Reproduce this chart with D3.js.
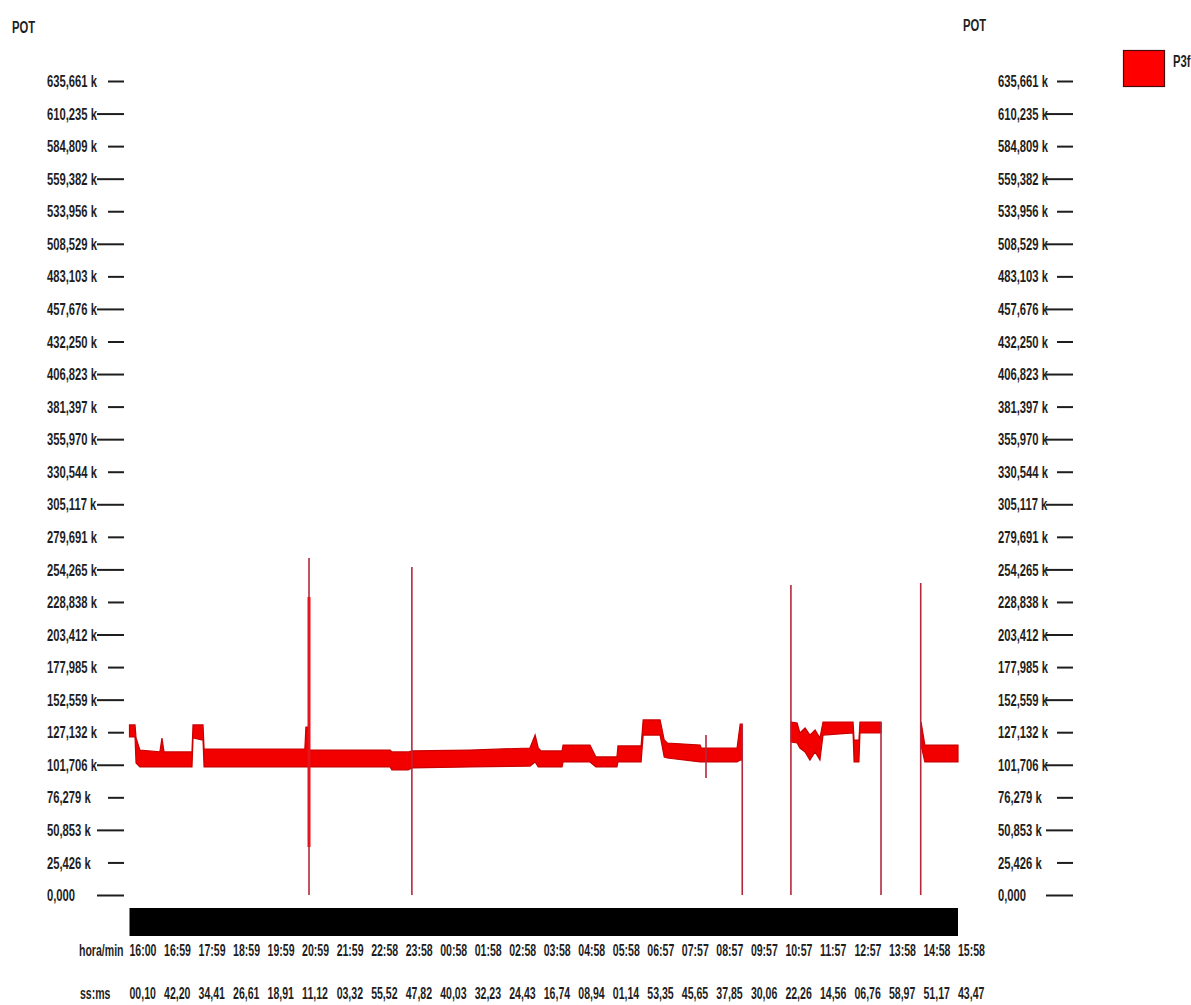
<!DOCTYPE html>
<html>
<head>
<meta charset="utf-8">
<script src="https://cdn.jsdelivr.net/npm/d3@7"></script>
<style>
  html, body { margin: 0; padding: 0; background: #ffffff; }
  svg { display: block; }
  text { font-family: "Liberation Sans Narrow", "Arial Narrow", "Liberation Sans", Arial, sans-serif; font-weight: bold; fill: #1e1e1e; }
</style>
</head>
<body>
<svg id="chart" width="1191" height="1005"></svg>
<script>
// ---- data -------------------------------------------------------------
// y-axis ticks (kW)
const yMax = 635.661;
const yTickLabels = ["0,000", "25,426 k", "50,853 k", "76,279 k", "101,706 k", "127,132 k",
  "152,559 k", "177,985 k", "203,412 k", "228,838 k", "254,265 k", "279,691 k", "305,117 k",
  "330,544 k", "355,970 k", "381,397 k", "406,823 k", "432,250 k", "457,676 k", "483,103 k",
  "508,529 k", "533,956 k", "559,382 k", "584,809 k", "610,235 k", "635,661 k"];

// x-axis: one label pair per hour since 16:00
const hourLabels = ["16:00", "16:59", "17:59", "18:59", "19:59", "20:59", "21:59", "22:58",
  "23:58", "00:58", "01:58", "02:58", "03:58", "04:58", "05:58", "06:57", "07:57", "08:57",
  "09:57", "10:57", "11:57", "12:57", "13:58", "14:58", "15:58"];
const secLabels = ["00,10", "42,20", "34,41", "26,61", "18,91", "11,12", "03,32", "55,52",
  "47,82", "40,03", "32,23", "24,43", "16,74", "08,94", "01,14", "53,35", "45,65", "37,85",
  "30,06", "22,26", "14,56", "06,76", "58,97", "51,17", "43,47"];

// P3f power band: hours since start, upper and lower envelope (k); null = no data
const bandTime = [0, 0.16, 0.19, 0.30, 0.88, 0.94, 1.00, 1.81, 1.84, 2.13, 2.16, 5.08, 5.11,
  5.17, 5.20, 7.55, 7.60, 8.07, 8.18, 9.86, 11.60, 11.75, 11.84, 11.92, 12.53, 12.56, 13.34,
  13.51, 14.12, 14.15, 14.82, 14.88, 15.37, 15.49, 15.58, 16.53, 16.56, 17.60, 17.69, 17.75,
  18.5,
  19.17, 19.34, 19.42, 19.57, 19.71, 19.86, 20.00, 20.09, 20.96, 20.99, 21.13, 21.16, 21.77,
  22.3,
  22.93, 23.04, 24.00];
const bandHigh = [132.8, 132.8, 122.6, 113.2, 111.7, 122.6, 111.7, 111.7, 132.8, 132.8, 114.0,
  114.0, 131.2, 131.2, 113.2, 113.2, 111.7, 111.7, 112.5, 113.2, 114.8, 124.9, 114.8, 112.5,
  112.5, 117.1, 117.1, 107.8, 107.8, 116.4, 116.4, 136.7, 136.7, 121.0, 118.7, 117.1, 114.8,
  114.8, 133.5, 133.5,
  null,
  135.1, 134.3, 126.5, 130.4, 124.9, 128.9, 122.6, 135.1, 135.1, 121.0, 121.0, 135.1, 135.1,
  null,
  135.1, 117.1, 117.1];
const bandLow = [123.4, 123.4, 103.1, 100.0, 100.0, 100.0, 100.0, 100.0, 122.6, 121.0, 100.0,
  100.0, 100.0, 100.0, 100.0, 100.0, 97.6, 97.6, 99.2, 100.0, 100.7, 103.9, 100.0, 100.0,
  100.0, 103.9, 103.9, 100.0, 100.0, 103.9, 103.9, 124.9, 124.9, 107.8, 107.0, 103.9, 103.9,
  103.9, 105.4, 105.4,
  null,
  119.5, 118.7, 114.8, 111.7, 105.4, 111.7, 105.4, 124.9, 126.5, 103.9, 103.9, 126.5, 126.5,
  null,
  117.1, 103.9, 103.9];

// isolated transients (hours since start, low, high in k)
const spikeTime = [5.20, 8.18, 16.70, 17.75, 19.16, 21.77, 22.92];
const spikeLow  = [0, 0, 91.4, 0, 0, 0, 0];
const spikeHigh = [263.2, 256.1, 124.9, 133.5, 242.1, 135.1, 243.6];
// the 20:59 transient stays heavy over most of its range
const surgeTime = [5.20];
const surgeLow  = [37.5];
const surgeHigh = [232.7];

const seriesName = "P3f";

// ---- layout -------------------------------------------------------------
const svg = d3.select("#chart");
const plotLeft = 129.5, plotRight = 958;
const y0 = 895, yTop = 81;

const x = d3.scaleLinear().domain([0, hourLabels.length - 1]).range([plotLeft, plotRight]);
const y = d3.scaleLinear().domain([0, yMax]).range([y0, yTop]);

// condensed label text: measure once, then squeeze horizontally
const fs = 17;
function makeSqueezer(sample, targetWidth) {
  const t = svg.append("text").attr("font-size", fs).text(sample);
  const w = t.node().getComputedTextLength();
  t.remove();
  return targetWidth / w;
}
const sxY = makeSqueezer("635,661 k", 50);
const sxX = makeSqueezer("16:00", 27);

function label(g, px, py, str, sx, anchor) {
  return g.append("text")
    .attr("transform", `translate(${px},${py}) scale(${sx},1)`)
    .attr("font-size", fs)
    .attr("text-anchor", anchor || "start")
    .attr("dy", "0.36em")
    .text(str);
}

// ---- y axes (left and right) ------------------------------------------
const yTickVals = yTickLabels.map((_, i) => i * yMax / 25);

function drawYAxis(labelX, tickEnd) {
  const ax = d3.axisLeft(y).tickValues(yTickVals).tickSizeOuter(0).tickSizeInner(27).tickFormat("");
  const g = svg.append("g").attr("transform", `translate(${tickEnd},0)`).call(ax);
  g.select(".domain").remove();
  g.selectAll(".tick line")
    .attr("stroke", "#1e1e1e").attr("stroke-width", 2)
    .attr("x2", (d, i) => i % 2 === 0 ? -27 : -16);
  const lg = svg.append("g");
  yTickVals.forEach((v, i) => label(lg, labelX, y(v), yTickLabels[i], sxY));
}
drawYAxis(47, 124);
drawYAxis(998, 1073);

// axis titles
label(svg, 12, 27, "POT", sxY);
label(svg, 963, 25, "POT", sxY);

// ---- series ------------------------------------------------------------
const band = bandTime.map((t, i) => ({ t, hi: bandHigh[i], lo: bandLow[i] }));
const area = d3.area()
  .defined(d => d.hi !== null)
  .x(d => x(d.t))
  .y0(d => y(d.lo))
  .y1(d => y(d.hi));

svg.append("path")
  .datum(band)
  .attr("d", area)
  .attr("fill", "#f20000")
  .attr("stroke", "#c80000")
  .attr("stroke-width", 1.2);

const spikes = spikeTime.map((t, i) => ({ t, lo: spikeLow[i], hi: spikeHigh[i] }));
svg.append("g").selectAll("line").data(spikes).join("line")
  .attr("x1", d => x(d.t)).attr("x2", d => x(d.t))
  .attr("y1", d => y(d.lo)).attr("y2", d => y(d.hi))
  .attr("stroke", "#b3283c").attr("stroke-width", 1.6);

const surges = surgeTime.map((t, i) => ({ t, lo: surgeLow[i], hi: surgeHigh[i] }));
svg.append("g").selectAll("line").data(surges).join("line")
  .attr("x1", d => x(d.t)).attr("x2", d => x(d.t))
  .attr("y1", d => y(d.lo)).attr("y2", d => y(d.hi))
  .attr("stroke", "#e8141c").attr("stroke-width", 3);

// ---- time axis ---------------------------------------------------------
svg.append("rect")
  .attr("x", plotLeft).attr("y", 908)
  .attr("width", plotRight - plotLeft).attr("height", 28)
  .attr("fill", "#000000");

const xg = svg.append("g");
label(xg, 79, 950, "hora/min", sxX);
label(xg, 80, 993, "ss:ms", sxX);
hourLabels.forEach((s, i) => label(xg, x(i), 950, s, sxX));
secLabels.forEach((s, i) => label(xg, x(i), 993, s, sxX));

// ---- legend ------------------------------------------------------------
svg.append("rect")
  .attr("x", 1123.5).attr("y", 50.5).attr("width", 41).attr("height", 36)
  .attr("fill", "#ff0000").attr("stroke", "#4a0a0a").attr("stroke-width", 1.2);
label(svg, 1173, 61, seriesName, sxY);
</script>
</body>
</html>
